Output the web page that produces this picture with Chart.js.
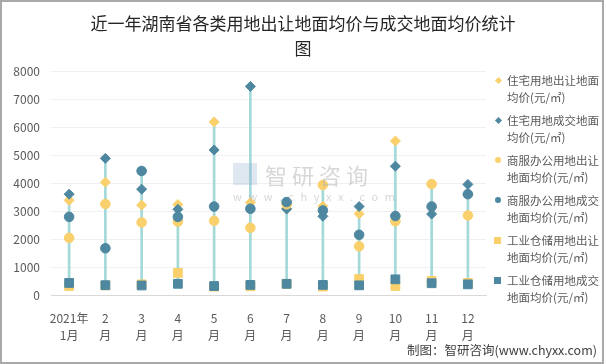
<!DOCTYPE html>
<html>
<head>
<meta charset="utf-8">
<script src="https://cdn.jsdelivr.net/npm/chart.js@4/dist/chart.umd.min.js"></script>
<style>
  body { margin: 0; background: #fff; }
  #wrap { position: relative; width: 606px; height: 364px; overflow: hidden; font-family: "Noto Sans CJK SC", sans-serif; }
  #frame { position: absolute; left: 0; top: 0; width: 604px; height: 364px; box-sizing: border-box; border: 2px solid #a9a9a9; pointer-events: none; }
  #title { position: absolute; left: 0; width: 606px; top: 10px; text-align: center; font-size: 17px; line-height: 25px; color: #262626; }
  #legend { position: absolute; left: 494px; top: 72px; }
  .item { position: relative; height: 40px; padding-left: 13px; font-size: 11.5px; line-height: 16.5px; color: #595959; white-space: nowrap; }
  .mk { position: absolute; left: 1px; top: 6px; }
  #footer { position: absolute; right: 9px; top: 340px; font-size: 12.5px; color: #404040; }
  #wm { position: absolute; left: 233px; top: 160px; color: rgba(175,175,175,0.5); pointer-events: none; }
  #wm .logo { position: absolute; left: 0; top: 3px; width: 24px; height: 22px; background: rgba(150,175,210,0.3); }
  #wm .big { font-size: 22px; letter-spacing: 5px; padding-left: 32px; line-height: 28px; }
  #wm .small { font-size: 11px; letter-spacing: 6.6px; line-height: 16px; }
  canvas { position: absolute; left: 0; top: 0; }
</style>
</head>
<body>
<div id="wrap">
  <canvas id="c" width="606" height="364"></canvas>
  <div id="title">近一年湖南省各类用地出让地面均价与成交地面均价统计<br>图</div>
  <div id="wm"><div class="logo"></div><div class="big">智研咨询</div><div class="small">www.chyxx.com</div></div>
  <div id="legend"></div>
  <div id="footer">制图：智研咨询(www.chyxx.com)</div>
  <div id="frame"></div>
</div>
<script>
const categories = [['2021年', '1月'], ['2', '月'], ['3', '月'], ['4', '月'], ['5', '月'], ['6', '月'],
                    ['7', '月'], ['8', '月'], ['9', '月'], ['10', '月'], ['11', '月'], ['12', '月']];
const seriesNames = [
  ['住宅用地出让地面', '均价(元/㎡)'],
  ['住宅用地成交地面', '均价(元/㎡)'],
  ['商服办公用地出让', '地面均价(元/㎡)'],
  ['商服办公用地成交', '地面均价(元/㎡)'],
  ['工业仓储用地出让', '地面均价(元/㎡)'],
  ['工业仓储用地成交', '地面均价(元/㎡)']
];
const resSale = [3380, 4030, 3210, 3230, 6180, 3300, 3080, 3170, 2900, 5500, 3130, 3600];
const resDeal = [3600, 4880, 3780, 3060, 5180, 7450, 3070, 2810, 3160, 4600, 2890, 3950];
const comSale = [2040, 3250, 2590, 2620, 2650, 2400, 3240, 3930, 1740, 2630, 3960, 2840];
const comDeal = [2790, 1670, 4430, 2790, 3160, 3080, 3320, 3020, 2150, 2820, 3160, 3600];
const indSale = [320, 340, 380, 790, 300, 310, 400, 300, 570, 320, 500, 430];
const indDeal = [430, 350, 340, 400, 320, 360, 400, 360, 345, 560, 420, 380];
const yTicks = [0, 1000, 2000, 3000, 4000, 5000, 6000, 7000, 8000];

const yellow = '#f9d06c';
const blue = '#4e87a0';
const allSeries = [resSale, resDeal, comSale, comDeal, indSale, indDeal];
const colors = [yellow, blue, yellow, blue, yellow, blue];
const shapes = ['rectRot', 'rectRot', 'circle', 'circle', 'rect', 'rect'];
const radii = [5, 5, 4.8, 4.8, 6.2, 6.2];

// high-low lines: min to max of all series per month
const hiLo = categories.map((c, i) => {
  const vals = allSeries.map(s => s[i]);
  return [Math.min(...vals), Math.max(...vals)];
});

const datasets = allSeries.map((s, k) => ({
  type: 'line',
  label: seriesNames[k].join(''),
  data: s,
  showLine: false,
  pointStyle: shapes[k],
  pointRadius: radii[k],
  pointBackgroundColor: colors[k],
  pointBorderColor: colors[k],
  pointBorderWidth: 1,
  order: 6 - k
}));
datasets.push({
  type: 'bar',
  label: 'hilo',
  data: hiLo,
  backgroundColor: '#a3d9d9',
  barThickness: 2,
  order: 10
});

new Chart(document.getElementById('c'), {
  type: 'bar',
  data: { labels: categories, datasets: datasets },
  options: {
    responsive: false,
    animation: false,
    layout: { padding: { top: 71, right: 120, left: 0, bottom: 0 } },
    plugins: { legend: { display: false }, tooltip: { enabled: false }, title: { display: false } },
    scales: {
      x: {
        grid: { display: false },
        border: { display: true, color: '#d9d9d9' },
        ticks: { color: '#595959', font: { family: '"Noto Sans CJK SC"', size: 12, lineHeight: 1.4 }, padding: 7, maxRotation: 0, autoSkip: false },
        afterFit: s => { s.height = 69; }
      },
      y: {
        min: 0, max: 8000,
        afterBuildTicks: s => { s.ticks = yTicks.map(v => ({ value: v })); },
        grid: { color: '#f0f0f0', drawTicks: false },
        border: { display: false },
        ticks: { color: '#595959', font: { family: '"Noto Sans CJK SC"', size: 12 }, padding: 11, callback: v => String(v) },
        afterFit: s => { s.width = 51; }
      }
    }
  }
});

// legend
const lg = document.getElementById('legend');
seriesNames.forEach((n, k) => {
  const it = document.createElement('div');
  it.className = 'item';
  const mk = document.createElement('div');
  mk.className = 'mk';
  if (shapes[k] === 'rectRot') {
    mk.style.cssText = 'width:5px;height:5px;transform:rotate(45deg);left:2px;top:6px;background:' + colors[k];
  } else if (shapes[k] === 'circle') {
    mk.style.cssText = 'width:6px;height:6px;border-radius:50%;left:1px;top:5px;background:' + colors[k];
  } else {
    mk.style.cssText = 'width:7px;height:7px;left:0px;top:5px;background:' + colors[k];
  }
  it.appendChild(mk);
  it.appendChild(document.createTextNode(n[0]));
  it.appendChild(document.createElement('br'));
  it.appendChild(document.createTextNode(n[1]));
  lg.appendChild(it);
});
</script>
</body>
</html>
